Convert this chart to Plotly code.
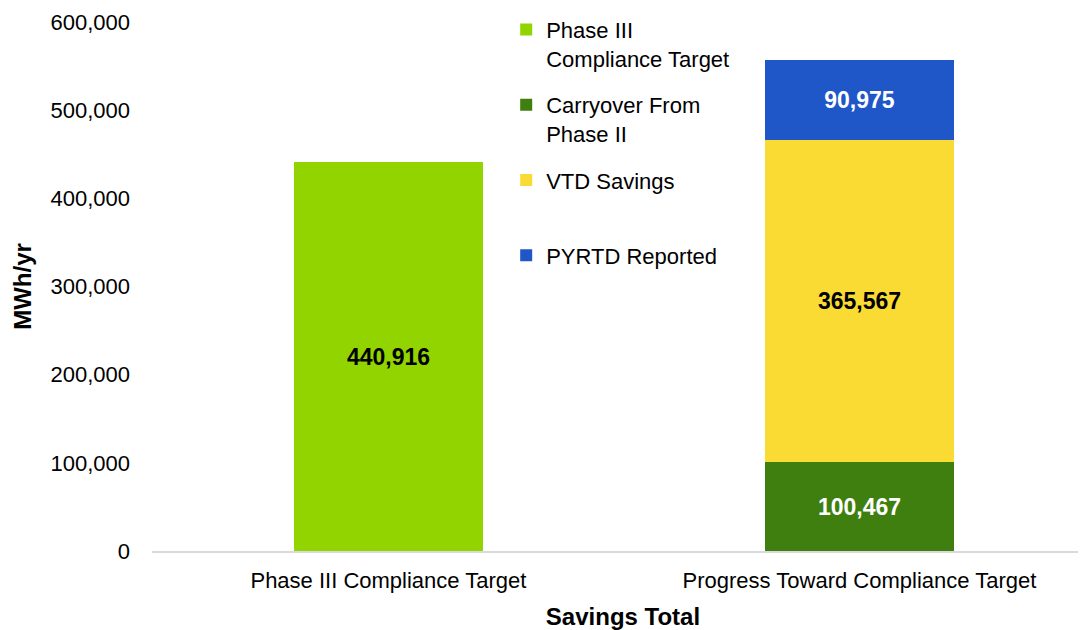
import plotly.graph_objects as go

categories = ["Phase III Compliance Target", "Progress Toward Compliance Target"]

target_vals = [440916, None]
carryover_vals = [None, 100467]
vtd_vals = [None, 365567]
pyrtd_vals = [None, 90975]

y_ticks = [0, 100000, 200000, 300000, 400000, 500000, 600000]

FONT = "Liberation Sans, Arial, sans-serif"


def bar(name, vals, color, text_color, group):
    return go.Bar(
        x=categories,
        y=vals,
        name=name,
        legendgroup=group,
        marker=dict(color=color, line=dict(width=0)),
        text=[f"{v:,}" if v is not None else "" for v in vals],
        textposition="inside",
        insidetextanchor="middle",
        textangle=0,
        textfont=dict(family=FONT, size=23, color=text_color, weight="bold"),
        hoverinfo="skip",
    )


fig = go.Figure()
fig.add_trace(bar("Phase III<br>Compliance Target", target_vals, "#92D400", "black", "a"))
fig.add_trace(bar("Carryover From<br>Phase II", carryover_vals, "#3F7F10", "white", "b"))
fig.add_trace(bar("VTD Savings<br> ", vtd_vals, "#F9DB33", "black", "c"))
fig.add_trace(bar("PYRTD Reported", pyrtd_vals, "#1F57C8", "white", "d"))

# page body adds an 8px offset, so margins are trimmed by 8 on left/top
fig.update_layout(
    width=1086,
    height=630,
    barmode="stack",
    bargap=0.6,
    paper_bgcolor="white",
    plot_bgcolor="white",
    margin=dict(l=144, r=0, t=14, b=87),
    font=dict(family=FONT, size=22, color="black"),
    legend=dict(
        x=0.376, xanchor="left",
        y=1.025, yanchor="top",
        traceorder="grouped",
        tracegroupgap=15,
        valign="top",
        itemwidth=30,
        bgcolor="rgba(0,0,0,0)",
        font=dict(size=22, color="black"),
    ),
    xaxis=dict(
        range=[-0.502, 1.498],
        showgrid=False,
        showline=True,
        linecolor="#D9D9D9",
        linewidth=2,
        ticks="",
        ticklabelstandoff=9,
        title=dict(text="<b>Savings Total</b>", standoff=16,
                   font=dict(size=24)),
    ),
    yaxis=dict(
        range=[0, 600000],
        tickvals=y_ticks,
        tickformat=",",
        showgrid=False,
        zeroline=False,
        showline=False,
        ticks="",
        ticklabelstandoff=21,
        title=dict(text="<b>MWh/yr</b>", standoff=12, font=dict(size=24)),
    ),
)

fig.write_html("out.html")
